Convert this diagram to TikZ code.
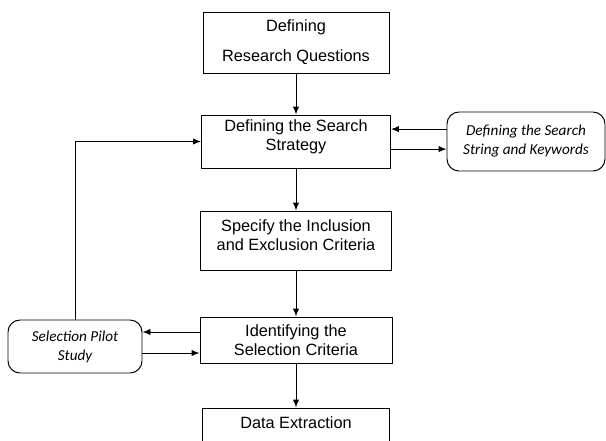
\documentclass[tikz,border=0pt]{standalone}
\usepackage{fontspec}
\setmainfont{Liberation Sans}
\newfontfamily\notefont{Carlito}
\usetikzlibrary{arrows.meta}

\begin{document}
\begin{tikzpicture}[
    stage/.style={draw,line width=0.7pt,align=center,inner sep=0pt,
      font=\fontsize{11.6}{13.5}\selectfont},
    note/.style={draw,line width=0.7pt,rounded corners=0.3cm,align=center,inner sep=0pt,
      font=\notefont\itshape\fontsize{10.8}{13.5}\selectfont},
    flow/.style={-{Latex[length=2mm,width=1.6mm]},line width=0.7pt}
  ]
      % Page is the size of the reference; the last box runs off its bottom.
      \useasboundingbox (0,0) rectangle (15.15,-11.025);
      \clip (0,0) rectangle (15.15,-11.025);

      \node[stage,minimum width=4.65cm,minimum height=1.525cm,
        font=\fontsize{11.6}{21.3}\selectfont] (questions) at (7.4,-1.0625) {Defining\\Research Questions};
      \node[stage,minimum width=4.725cm,minimum height=1.325cm,text depth=0.3cm] (strategy) at (7.4,-3.5375) {Defining the Search\\Strategy};
      \node[stage,minimum width=4.775cm,minimum height=1.475cm,text depth=0.25cm] (criteria) at (7.4,-6.0125) {Specify the Inclusion\\and Exclusion Criteria};
      \node[stage,minimum width=4.8cm,minimum height=1.15cm] (selection) at (7.4,-8.5) {Identifying the\\Selection Criteria};
      \node[stage,minimum width=4.675cm,text height=0.5cm,text depth=1cm,anchor=base] (extraction) at (7.4,-10.7) {Data Extraction};

      \node[note,minimum width=3.95cm,minimum height=1.475cm] (keywords) at (13.15,-3.5375) {Defining the Search\\String and Keywords};
      \node[note,minimum width=3.35cm,minimum height=1.325cm] (pilot) at (1.875,-8.6625) {Selection Pilot\\Study};

      \draw[flow] (questions) -- (strategy);
      \draw[flow] (strategy) -- (criteria);
      \draw[flow] (criteria) -- (selection);
      \draw[flow] (selection) -- (extraction);

      \draw[flow] ([yshift=3.1mm]keywords.west) -- ([yshift=3.1mm]strategy.east);
      \draw[flow] ([yshift=-1.9mm]strategy.east) -- ([yshift=-1.9mm]keywords.west);

      \coordinate (selout) at ([yshift=2mm]selection.west);
      \coordinate (selin) at ([yshift=-3.25mm]selection.west);
      \draw[flow] (selout) -- (selout -| pilot.east);
      \draw[flow] (selin -| pilot.east) -- (selin);

      \draw[flow] (pilot.north) |- (strategy.west);
    \end{tikzpicture}
\end{document}
